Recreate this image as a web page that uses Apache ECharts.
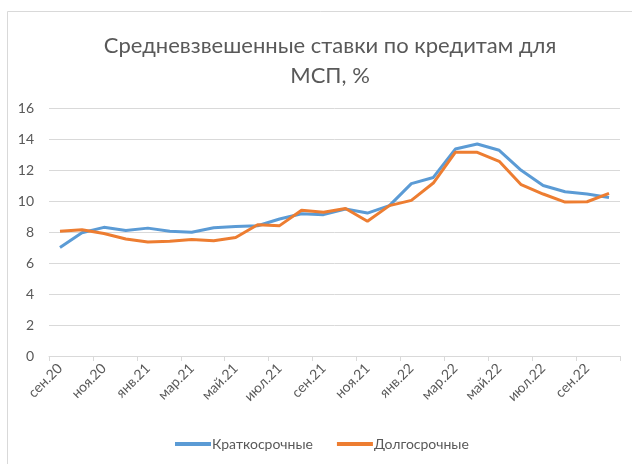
<!DOCTYPE html>
<html>
<head>
<meta charset="utf-8">
<script src="https://cdn.jsdelivr.net/npm/echarts@6/dist/echarts.min.js"></script>
<style>
html,body{margin:0;padding:0;background:#fff;}
#chart{width:632px;height:464px;}
</style>
</head>
<body>
<div id="chart"></div>
<script>
var categories = ['сен.20','окт.20','ноя.20','дек.20','янв.21','фев.21','мар.21','апр.21','май.21','июн.21','июл.21','авг.21','сен.21','окт.21','ноя.21','дек.21','янв.22','фев.22','мар.22','апр.22','май.22','июн.22','июл.22','авг.22','сен.22','окт.22'];
var shortTerm = [7.0, 7.95, 8.3, 8.1, 8.25, 8.05, 7.98, 8.28, 8.36, 8.4, 8.84, 9.18, 9.12, 9.48, 9.22, 9.7, 11.12, 11.52, 13.35, 13.68, 13.27, 11.98, 11.0, 10.6, 10.45, 10.23];
var longTerm = [8.05, 8.15, 7.9, 7.55, 7.35, 7.4, 7.52, 7.44, 7.65, 8.47, 8.41, 9.4, 9.27, 9.52, 8.69, 9.7, 10.04, 11.16, 13.14, 13.14, 12.56, 11.05, 10.45, 9.93, 9.95, 10.49];
var seriesNames = ['Краткосрочные', 'Долгосрочные'];
var titleText = 'Средневзвешенные ставки по кредитам для\nМСП, %';

var font = 'Lato';
var chart = echarts.init(document.getElementById('chart'), null, {renderer: 'canvas'});
chart.setOption({
  animation: false,
  backgroundColor: '#fff',
  title: {
    text: titleText,
    left: 325,
    top: 26,
    textAlign: 'center',
    textStyle: {fontFamily: font, fontSize: 22, fontWeight: 'normal', color: '#595959', lineHeight: 30}
  },
  graphic: [{
    type: 'rect',
    shape: {x: 7.5, y: 11.5, width: 800, height: 600},
    style: {fill: 'none', stroke: '#d9d9d9', lineWidth: 1},
    silent: true
  }],
  legend: {
    data: seriesNames,
    left: 170,
    top: 432,
    itemWidth: 36,
    itemHeight: 4,
    itemGap: 24,
    icon: 'rect',
    textStyle: {fontFamily: font, fontSize: 14, color: '#595959', padding: [0, 0, 0, -4]}
  },
  grid: {left: 49, right: 12, top: 108, bottom: 108, containLabel: false},
  xAxis: {
    type: 'category',
    data: categories,
    boundaryGap: true,
    axisLine: {lineStyle: {color: '#d9d9d9', width: 1}},
    axisTick: {show: true, interval: 1, length: 5, lineStyle: {color: '#d9d9d9'}},
    axisLabel: {interval: 1, rotate: 45, fontFamily: font, fontSize: 14, color: '#595959', margin: 10}
  },
  yAxis: {
    type: 'value',
    min: 0, max: 16, interval: 2,
    axisLine: {show: false},
    axisTick: {show: false},
    splitLine: {lineStyle: {color: '#d9d9d9', width: 1}},
    axisLabel: {fontFamily: font, fontSize: 14, color: '#595959', margin: 15}
  },
  series: [
    {name: seriesNames[0], type: 'line', data: shortTerm, symbol: 'none', showSymbol: false,
     lineStyle: {color: '#5b9bd5', width: 3}, itemStyle: {color: '#5b9bd5'}},
    {name: seriesNames[1], type: 'line', data: longTerm, symbol: 'none', showSymbol: false,
     lineStyle: {color: '#ed7d31', width: 3}, itemStyle: {color: '#ed7d31'}}
  ]
});
</script>
</body>
</html>
